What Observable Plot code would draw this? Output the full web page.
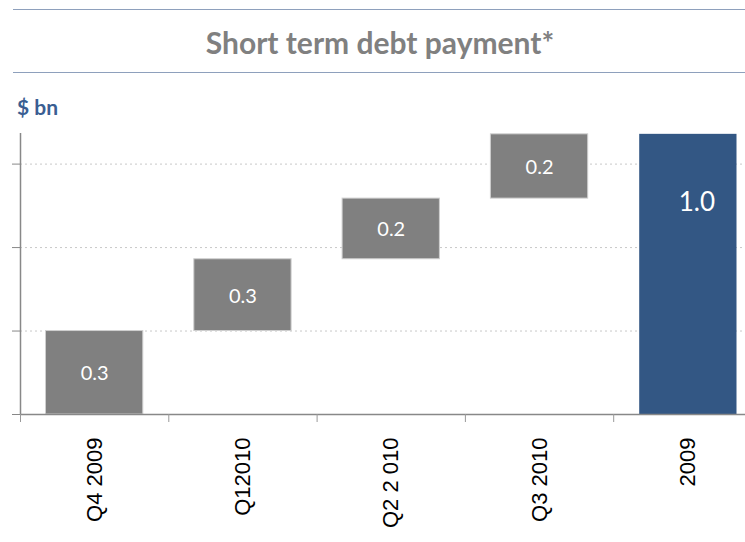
<!DOCTYPE html>
<html>
<head>
<meta charset="utf-8">
<script src="https://cdn.jsdelivr.net/npm/d3@7"></script>
<script src="https://cdn.jsdelivr.net/npm/@observablehq/plot@0.6"></script>
<style>
  html, body { margin: 0; padding: 0; background: #fff; overflow: hidden; width: 745px; height: 542px; }
  #chart { position: absolute; left: 0; top: 0; }
  #title {
    position: absolute; left: 13px; top: 9px; width: 732px; height: 62px;
    border-top: 1.5px solid #8ea0bc; border-bottom: 1.5px solid #8ea0bc;
    font-family: Lato, "Open Sans", sans-serif; font-weight: bold; font-size: 30px;
    color: #808080; text-align: center; line-height: 62px; box-sizing: content-box;
  }
  #title span { position: relative; left: 1px; top: 1px; }
  #unit {
    position: absolute; left: 17px; top: 94px;
    font-family: Lato, "Open Sans", sans-serif; font-weight: bold; font-size: 21px; color: #3a5e92;
  }
</style>
</head>
<body>
<div id="chart"></div>
<div id="title"><span>Short term debt payment*</span></div>
<div id="unit">$ bn</div>
<script>
const categories = ["Q4 2009", "Q12010", "Q2 2 010", "Q3 2010", "2009"];
const values = [0.300, 0.258, 0.218, 0.231, 1.007];
const valueLabels = ["0.3", "0.3", "0.2", "0.2", "1.0"];
const isTotal = [false, false, false, false, true];
const yTicks = [0, 0.3, 0.6, 0.9];
const yMax = 1.01;

let cum = 0;
const rows = categories.map((c, i) => {
  let start, end;
  if (isTotal[i]) { start = 0; end = values[i]; }
  else { start = cum; end = cum + values[i]; cum = end; }
  return { i, cat: c, start, end, mid: (start + end) / 2, label: valueLabels[i], total: isTotal[i] };
});
const edges = d3.range(categories.length + 1);

const plot = Plot.plot({
  width: 745,
  height: 542,
  marginTop: 133,
  marginBottom: 128,
  marginLeft: 20,
  marginRight: -16.5,
  style: { maxWidth: "none", background: "transparent", overflow: "hidden" },
  x: { type: "linear", domain: [0, categories.length], axis: null, label: null },
  y: { domain: [0, yMax], axis: null, label: null },
  marks: [
    Plot.gridY(yTicks.filter(d => d > 0), { stroke: "#c8c8c8", strokeOpacity: 1, strokeDasharray: "2,3", strokeWidth: 1 }),
    Plot.rectY(rows.filter(d => !d.total), {
      x1: "i", x2: d => d.i + 1, y1: "start", y2: "end",
      insetLeft: 25.5, insetRight: 25.5,
      fill: "#808080", stroke: "#cfcfcf", strokeWidth: 1
    }),
    Plot.rectY(rows.filter(d => d.total), {
      x1: "i", x2: d => d.i + 1, y1: "start", y2: "end",
      insetLeft: 26, insetRight: 25,
      fill: "#335784"
    }),
    Plot.text(rows.filter(d => !d.total), {
      x: d => d.i + 0.5, y: "mid", text: "label", dy: 1,
      fill: "white", fontSize: 20, fontFamily: "Lato, 'Open Sans', sans-serif"
    }),
    Plot.text(rows.filter(d => d.total), {
      x: d => d.i + 0.5, y: "end", text: "label", dy: 68, dx: 9,
      fill: "white", fontSize: 26, fontFamily: "Lato, 'Open Sans', sans-serif"
    }),
    Plot.ruleY([0], { stroke: "#888", strokeWidth: 1.5 }),
    Plot.ruleX([0], { y1: 0, y2: yMax, stroke: "#888", strokeWidth: 1.5 }),
    Plot.axisY(yTicks, { tickSize: 8, tickFormat: () => "", stroke: "#888", anchor: "left", label: null }),
    Plot.axisX(edges, { tickSize: 8, tickFormat: () => "", stroke: "#999", anchor: "bottom", label: null }),
    Plot.text(rows, {
      x: d => d.i + 0.5, y: 0, text: "cat", rotate: -90, textAnchor: "end", dy: 23,
      fill: "#000", fontSize: 22, fontFamily: "'Liberation Sans', Arial, sans-serif"
    })
  ]
});
document.getElementById("chart").appendChild(plot);
</script>
</body>
</html>
